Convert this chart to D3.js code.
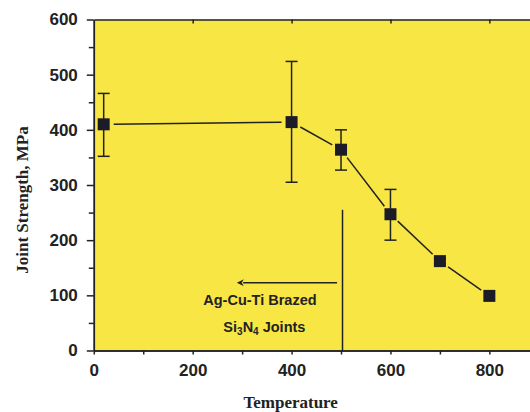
<!DOCTYPE html>
<meta charset="utf-8">
<script src="https://d3js.org/d3.v7.min.js"></script>
<style>
body { margin: 0; background: #fff; }
.tick text { font: bold 17px "Liberation Sans", Arial, sans-serif; fill: #222; }
.axis path, .axis line { stroke: #222; stroke-width: 1.5px; }
.title { font: bold 17px "Liberation Serif", "Times New Roman", serif; fill: #222; }
.note { font: bold 14.5px "Liberation Sans", Arial, sans-serif; fill: #222; }
</style>
<body>
<script>

// data
var temps    = [20, 400, 500, 600, 700, 800];
var strength = [410, 414, 364, 247, 162, 99];
var errHigh  = [466, 524, 400, 292, 167, 99];
var errLow   = [352, 305, 327, 200, 157, 99];

var xTicks = [0, 200, 400, 600, 800];
var xMinor = [100, 300, 500, 700];
var yTicks = [0, 100, 200, 300, 400, 500, 600];
var yMinor = [50, 150, 250, 350, 450, 550];

var width = 530, height = 412;

var x = d3.scaleLinear().domain([0, 900]).range([93.8, 538.8]);
var y = d3.scaleLinear().domain([0, 600]).range([350.5, 19.5]);

var svg = d3.select("body").append("svg")
    .attr("width", width)
    .attr("height", height);

svg.append("defs").append("marker")
    .attr("id", "head")
    .attr("viewBox", "0 0 10 10")
    .attr("refX", 1).attr("refY", 5)
    .attr("markerWidth", 11).attr("markerHeight", 7)
    .attr("markerUnits", "userSpaceOnUse")
    .attr("orient", "auto-start-reverse")
  .append("path")
    .attr("d", "M10,5 L0,0 L3,5 L0,10 Z")
    .attr("fill", "#222");

// yellow plot area
svg.append("rect")
    .attr("x", x(0)).attr("y", y(600))
    .attr("width", width - x(0)).attr("height", y(0) - y(600))
    .attr("fill", "#f8e644");

// annotation: vertical line, arrow, text
svg.append("line")
    .attr("x1", x(503)).attr("x2", x(503))
    .attr("y1", y(0)).attr("y2", y(255))
    .attr("stroke", "#222").attr("stroke-width", 1.5);

svg.append("line")
    .attr("x1", x(492)).attr("x2", x(302))
    .attr("y1", y(123)).attr("y2", y(123))
    .attr("stroke", "#222").attr("stroke-width", 1.5)
    .attr("marker-end", "url(#head)");

svg.append("text").attr("class", "note")
    .attr("x", x(336)).attr("y", y(82))
    .attr("text-anchor", "middle")
    .text("Ag-Cu-Ti Brazed");

var t2 = svg.append("text").attr("class", "note")
    .attr("x", x(345)).attr("y", y(34))
    .attr("text-anchor", "middle");
t2.append("tspan").text("Si");
t2.append("tspan").attr("dy", 3).style("font-size", "10px").text("3");
t2.append("tspan").attr("dy", -3).text("N");
t2.append("tspan").attr("dy", 3).style("font-size", "10px").text("4");
t2.append("tspan").attr("dy", -3).text(" Joints");

// axes
svg.append("g").attr("class", "axis")
    .attr("transform", "translate(0," + y(0) + ")")
    .call(d3.axisBottom(x).tickValues(xTicks).tickSize(4).tickPadding(9).tickSizeOuter(0));
svg.append("g").attr("class", "axis")
    .attr("transform", "translate(0," + y(0) + ")")
    .call(d3.axisBottom(x).tickValues(xMinor).tickSize(4).tickFormat("").tickSizeOuter(0));

svg.append("g").attr("class", "axis")
    .attr("transform", "translate(0," + y(600) + ")")
    .call(d3.axisTop(x).tickValues(xTicks.slice(1)).tickSize(-4).tickFormat("").tickSizeOuter(0));

svg.append("g").attr("class", "axis")
    .attr("transform", "translate(" + x(0) + ",0)")
    .call(d3.axisLeft(y).tickValues(yTicks).tickSize(7).tickPadding(9).tickSizeOuter(0));
svg.append("g").attr("class", "axis")
    .attr("transform", "translate(" + x(0) + ",0)")
    .call(d3.axisLeft(y).tickValues(yMinor).tickSize(5).tickFormat("").tickSizeOuter(0));

svg.selectAll(".axis .domain").attr("stroke-width", 1.8);

// titles
svg.append("text").attr("class", "title")
    .attr("x", 290.7).attr("y", 408)
    .attr("text-anchor", "middle")
    .text("Temperature");

svg.append("text").attr("class", "title")
    .attr("transform", "translate(28,200) rotate(-90)")
    .attr("text-anchor", "middle")
    .text("Joint Strength, MPa");

// data
var pts = temps.map(function(t, i) {
  return {t: t, v: strength[i], hi: errHigh[i], lo: errLow[i]};
});

// connecting segments, with a small gap at each marker
var gap = 10;
var segs = d3.pairs(pts);
svg.append("g").selectAll("line")
    .data(segs)
  .enter().append("line")
    .each(function(d) {
      var x1 = x(d[0].t), y1 = y(d[0].v), x2 = x(d[1].t), y2 = y(d[1].v);
      var len = Math.sqrt((x2 - x1) * (x2 - x1) + (y2 - y1) * (y2 - y1));
      var ux = (x2 - x1) / len, uy = (y2 - y1) / len;
      d3.select(this)
        .attr("x1", x1 + ux * gap).attr("y1", y1 + uy * gap)
        .attr("x2", x2 - ux * gap).attr("y2", y2 - uy * gap);
    })
    .attr("stroke", "#222").attr("stroke-width", 1.5);

// error bars
var eb = svg.append("g").selectAll("g")
    .data(pts.filter(function(d) { return d.hi > d.lo; }))
  .enter().append("g")
    .attr("stroke", "#222").attr("stroke-width", 1.5);
eb.append("line")
    .attr("x1", function(d) { return x(d.t); }).attr("x2", function(d) { return x(d.t); })
    .attr("y1", function(d) { return y(d.hi); }).attr("y2", function(d) { return y(d.lo); });
eb.append("line")
    .attr("x1", function(d) { return x(d.t) - 6; }).attr("x2", function(d) { return x(d.t) + 6; })
    .attr("y1", function(d) { return y(d.hi); }).attr("y2", function(d) { return y(d.hi); });
eb.append("line")
    .attr("x1", function(d) { return x(d.t) - 6; }).attr("x2", function(d) { return x(d.t) + 6; })
    .attr("y1", function(d) { return y(d.lo); }).attr("y2", function(d) { return y(d.lo); });

// square markers
svg.append("g").selectAll("rect")
    .data(pts)
  .enter().append("rect")
    .attr("x", function(d) { return x(d.t) - 6; })
    .attr("y", function(d) { return y(d.v) - 6; })
    .attr("width", 12).attr("height", 12)
    .attr("fill", "#1c1c28");

</script>
</body>
</html>
